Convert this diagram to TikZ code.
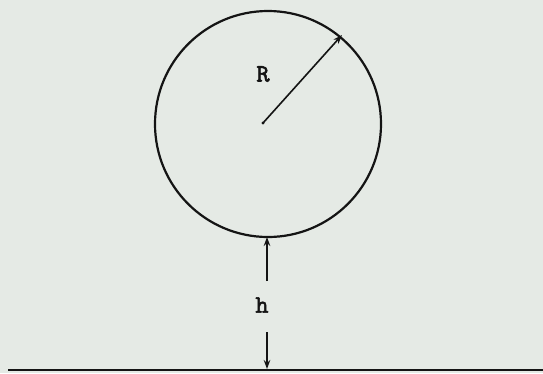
\documentclass[tikz,border=0pt]{standalone}
\usepackage{fontspec}
\newfontfamily\typebold{lmmono10-regular}[Extension=.otf, FakeBold=2.2]
\usetikzlibrary{arrows.meta}
\definecolor{paper}{RGB}{229,234,229}
\definecolor{ink}{RGB}{20,20,20}
\tikzset{
  lbl/.style={font=\typebold\fontsize{25}{25}\selectfont, text=ink, inner sep=0pt},
  dim/.style={draw=ink, line width=1.6pt, -{Stealth[length=9pt,width=6.5pt]}},
}
\begin{document}
\begin{tikzpicture}[x=1pt,y=-1pt]
\fill[paper] (0,0) rectangle (543,373);
\useasboundingbox (0,0) rectangle (543,373);
\node[draw=ink, line width=2.2pt, circle, minimum size=226pt, inner sep=0pt] (ball) at (268,124) {};
\coordinate (c) at (263,123);
\fill[ink] (c) circle (1.6pt);
\coordinate (rim) at (342,35);
\draw[dim] (c) -- (rim);
\node[lbl] (R) at (263,74) {R};
\coordinate (gl) at (8,370);
\coordinate (gr) at (543,370);
\draw[draw=ink, line width=2.4pt] (gl) -- (gr);
\coordinate (up) at (267,281);
\coordinate (top) at (267,237);
\coordinate (dn) at (267,332);
\coordinate (bot) at (267,369);
\draw[dim] (up) -- (top);
\draw[dim] (dn) -- (bot);
\node[lbl] (h) at (262,305) {h};
\end{tikzpicture}
\end{document}
